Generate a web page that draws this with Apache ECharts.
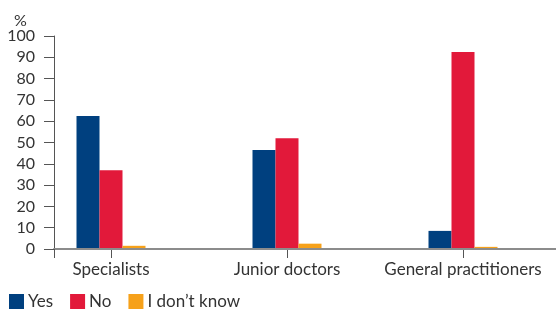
<!DOCTYPE html>
<html>
<head>
<meta charset="utf-8">
<script src="https://cdn.jsdelivr.net/npm/echarts@6/dist/echarts.min.js"></script>
<style>
  html, body { margin: 0; padding: 0; background: #fff; }
  #chart { width: 556px; height: 309px; }
</style>
</head>
<body>
<div id="chart"></div>
<script>
// data
const categories = ["Specialists", "Junior doctors", "General practitioners"]
const yesValues = [62.5, 46.5, 8.5]
const noValues = [37, 52, 92.5]
const dontKnowValues = [1.5, 2.5, 1]
const yTicks = [0, 10, 20, 30, 40, 50, 60, 70, 80, 90, 100]

const textColor = "#333"
const font = "Lato"

let chart = echarts.init(document.getElementById("chart"))
let option = {
  animation: false,
  textStyle: { fontFamily: font },
  title: {
    text: "%",
    left: 9,
    top: 8,
    textStyle: { fontFamily: font, fontSize: 16, fontWeight: "normal", color: textColor }
  },
  legend: {
    left: 9,
    top: 293,
    padding: 0,
    itemWidth: 15,
    itemHeight: 15,
    itemGap: 17,
    icon: "rect",
    textStyle: { fontFamily: font, fontSize: 17, lineHeight: 15, color: textColor, padding: [0, 0, 0, -1] },
    data: ["Yes", "No", "I don\u2019t know"]
  },
  grid: [
    // bars: categories sit on points, first and last group centres
    { left: 111, right: 93, top: 36, bottom: 60 },
    // visible axis frame
    { left: 54, right: 0, top: 36, bottom: 60 }
  ],
  xAxis: [
    {
      gridIndex: 0,
      type: "category",
      data: categories,
      boundaryGap: false,
      axisLine: { show: true, onZero: false, lineStyle: { color: "#8c8c8c", opacity: 0 } },
      axisTick: { show: true, interval: 0, length: 9, lineStyle: { color: "#555", width: 1 } },
      axisLabel: { interval: 0, margin: 12, fontFamily: font, fontSize: 17, color: textColor }
    },
    {
      gridIndex: 1,
      type: "value",
      min: 0,
      max: 1,
      interval: 1,
      z: 5,
      axisLine: { show: true, lineStyle: { color: "#8c8c8c", width: 2 } },
      axisTick: { show: true, length: 9, lineStyle: { color: "#555" } },
      axisLabel: { show: false },
      splitLine: { show: false }
    }
  ],
  yAxis: [
    {
      gridIndex: 0,
      type: "value",
      min: 0,
      max: 100,
      axisLine: { show: false },
      axisTick: { show: false },
      axisLabel: { show: false },
      splitLine: { show: false }
    },
    {
      gridIndex: 1,
      type: "value",
      min: yTicks[0],
      max: yTicks[yTicks.length - 1],
      interval: 10,
      z: 5,
      axisLine: { show: true, lineStyle: { color: "#555", width: 1 } },
      axisTick: { show: true, length: 10, lineStyle: { color: "#555" } },
      axisLabel: { margin: 19, fontFamily: font, fontSize: 16, color: textColor },
      splitLine: { show: false }
    }
  ],
  series: [
    {
      name: "Yes",
      type: "bar",
      xAxisIndex: 0,
      yAxisIndex: 0,
      data: yesValues,
      barWidth: 23,
      barGap: "0%",
      clip: false,
      itemStyle: { color: "#00407f" }
    },
    {
      name: "No",
      type: "bar",
      xAxisIndex: 0,
      yAxisIndex: 0,
      data: noValues,
      barWidth: 23,
      barGap: "0%",
      clip: false,
      itemStyle: { color: "#e2193a" }
    },
    {
      name: "I don\u2019t know",
      type: "bar",
      xAxisIndex: 0,
      yAxisIndex: 0,
      data: dontKnowValues,
      barWidth: 23,
      barGap: "0%",
      clip: false,
      itemStyle: { color: "#f6a11a" }
    }
  ]
}
chart.setOption(option)
</script>
</body>
</html>
